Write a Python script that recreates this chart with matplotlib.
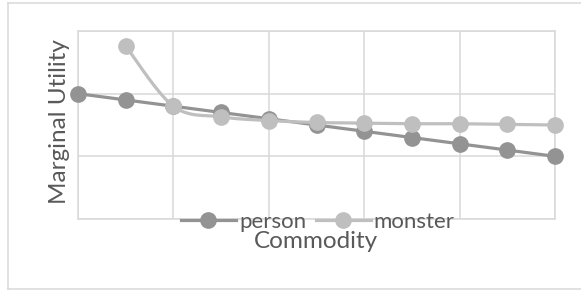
import numpy as np
import matplotlib
matplotlib.use("Agg")
import matplotlib.pyplot as plt
from matplotlib.lines import Line2D

plt.rcParams['font.family'] = ['Lato', 'DejaVu Sans']

# data
commodity = [0, 1, 2, 3, 4, 5, 6, 7, 8, 9, 10]
person = [2.0, 1.9, 1.8, 1.7, 1.6, 1.5, 1.4, 1.3, 1.2, 1.1, 1.0]
monster_x = [1, 2, 3, 4, 5, 6, 7, 8, 9, 10]
monster = [2.76, 1.8, 1.63, 1.57, 1.54, 1.53, 1.52, 1.52, 1.51, 1.5]

txt = '#595959'
grid = '#d9d9d9'
c_person = '#939393'
c_monster = '#bfbfbf'


def smooth(xs, ys, n=30):
    # excel style smoothed line (catmull-rom as bezier)
    P = np.column_stack([xs, ys]).astype(float)
    out = [P[0]]
    for i in range(len(P) - 1):
        p0 = P[i - 1] if i > 0 else P[i]
        p1, p2 = P[i], P[i + 1]
        p3 = P[i + 2] if i + 2 < len(P) else P[i + 1]
        c1 = p1 + (p2 - p0) / 6
        c2 = p2 - (p3 - p1) / 6
        t = np.linspace(0, 1, n)[1:, None]
        seg = (1 - t)**3 * p1 + 3 * (1 - t)**2 * t * c1 + 3 * (1 - t) * t**2 * c2 + t**3 * p2
        out.extend(seg)
    out = np.array(out)
    return out[:, 0], out[:, 1]


fig = plt.figure(figsize=(5.81, 2.97), dpi=100)
ax = fig.add_axes([78/581, 1 - 219/297, 477/581, 188/297])

ax.set_xlim(0, 10)
ax.set_ylim(0, 3)
ax.set_xticks([0, 2, 4, 6, 8, 10])
ax.set_yticks([0, 1, 2, 3])
ax.grid(True, color=grid, lw=1.1)
ax.tick_params(length=0, labelbottom=False, labelleft=False)
for s in ax.spines.values():
    s.set_color(grid)
    s.set_linewidth(1.1)
ax.set_axisbelow(True)

ms = 11
ax.plot(commodity, person, color=c_person, lw=2.3, marker='o', ms=ms,
        clip_on=False, zorder=3, label='person')
sx, sy = smooth(monster_x, monster)
ax.plot(sx, sy, color=c_monster, lw=2.3, clip_on=False, zorder=4)
ax.plot(monster_x, monster, color=c_monster, lw=0, marker='o', ms=ms,
        clip_on=False, zorder=4)

handles = [Line2D([], [], color=c_person, lw=2.3, marker='o', ms=ms),
           Line2D([], [], color=c_monster, lw=2.3, marker='o', ms=ms)]
leg = fig.legend(handles, ['person', 'monster'], loc='center',
                 bbox_to_anchor=(318/581, 1 - 222/297), ncol=2, frameon=False,
                 fontsize=16, handlelength=2.45, handletextpad=0.15,
                 columnspacing=0.45, borderpad=0)
for t in leg.get_texts():
    t.set_color(txt)

fig.text(316/581, 1 - 241/297, 'Commodity', ha='center', va='center',
         fontsize=17.5, color=txt)
fig.text(59/581, 1 - 122/297, 'Marginal Utility', ha='center', va='center',
         rotation=90, fontsize=17.5, color=txt)

# outer chart border
fig.add_artist(Line2D([8/581, 8/581], [1 - 289/297, 1 - 3/297], color=grid, lw=1.1))
fig.add_artist(Line2D([8/581, 1], [1 - 289/297, 1 - 289/297], color=grid, lw=1.1))
fig.add_artist(Line2D([8/581, 1], [1 - 3/297, 1 - 3/297], color=grid, lw=1.1))

fig.savefig('out.png', dpi=100, facecolor='white')
